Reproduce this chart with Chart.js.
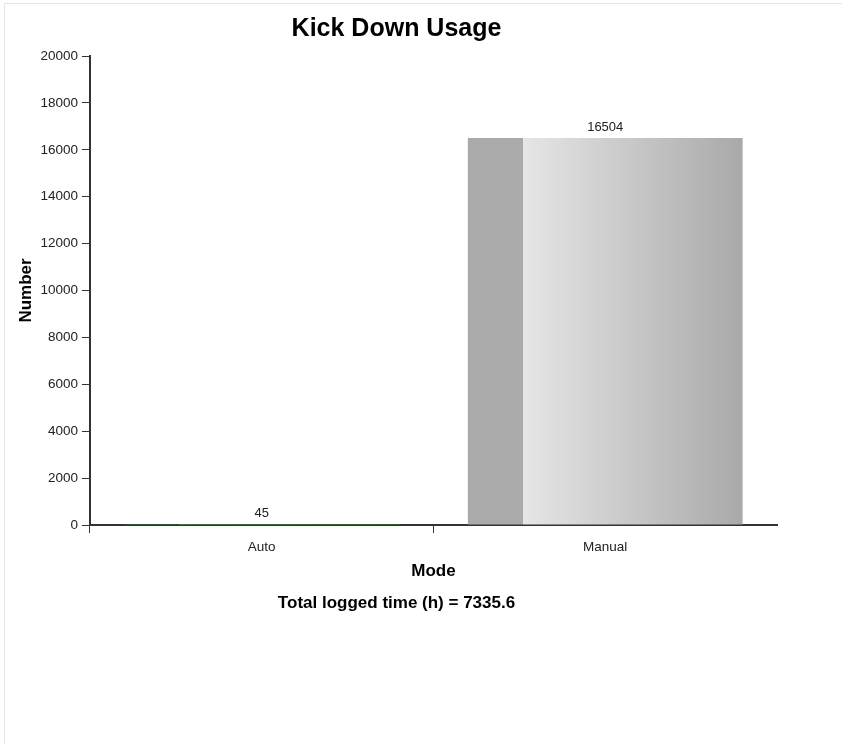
<!DOCTYPE html>
<html>
<head>
<meta charset="utf-8">
<script src="https://cdn.jsdelivr.net/npm/chart.js@4/dist/chart.umd.min.js"></script>
<style>
  html, body { margin: 0; padding: 0; background: #fff; }
  #frame { position: absolute; left: 4px; top: 3px; width: 838px; height: 741px;
           border-top: 1px solid #e6e6e6; border-left: 1px solid #e6e6e6; }
  #wrap { position: absolute; left: 0; top: 0; width: 790px; height: 744px; }
</style>
</head>
<body>
<div id="frame"></div>
<div id="wrap"><canvas id="chart" width="790" height="744"></canvas></div>
<script>
// chart data
const modes = ['Auto', 'Manual']
const counts = [45, 16504]
const yTicks = [0, 2000, 4000, 6000, 8000, 10000, 12000, 14000, 16000, 18000, 20000]
const totalHours = 7335.6

// colours per bar: solid strip on the left, then a light-to-dark gradient
const stripColors = ['#1d7a1d', '#aaaaaa']
const gradStart = ['#4caf50', '#e6e6e6']
const gradEnd = ['#1f8a1f', '#a9a9a9']

const font = 'Arial, "Liberation Sans", sans-serif'

function barFill(context) {
  const chart = context.chart
  const i = context.dataIndex
  const xs = chart.scales.x
  if (!chart.chartArea || !xs) return stripColors[i]
  const center = xs.getPixelForValue(i)
  const w = (xs.width / modes.length) * 0.8
  const g = chart.ctx.createLinearGradient(center - w / 2, 0, center + w / 2, 0)
  g.addColorStop(0, stripColors[i])
  g.addColorStop(0.2, stripColors[i])
  g.addColorStop(0.2, gradStart[i])
  g.addColorStop(1, gradEnd[i])
  return g
}

// draws value above each bar
const valueLabels = {
  id: 'valueLabels',
  afterDatasetsDraw(chart) {
    const ctx = chart.ctx
    const meta = chart.getDatasetMeta(0)
    ctx.save()
    ctx.font = '13px ' + font
    ctx.fillStyle = '#222'
    ctx.textAlign = 'center'
    ctx.textBaseline = 'bottom'
    meta.data.forEach((bar, i) => {
      ctx.fillText(String(counts[i]), bar.x, bar.y - 4)
    })
    ctx.restore()
  }
}

new Chart(document.getElementById('chart'), {
  type: 'bar',
  data: {
    labels: modes,
    datasets: [{
      data: counts,
      backgroundColor: barFill,
      borderWidth: 0,
      barPercentage: 0.8,
      categoryPercentage: 1.0
    }]
  },
  plugins: [valueLabels],
  options: {
    responsive: false,
    animation: false,
    layout: { padding: { left: 16, right: 13, top: 0, bottom: 130 } },
    plugins: {
      legend: { display: false },
      tooltip: { enabled: false },
      title: {
        display: true,
        text: 'Kick Down Usage',
        color: '#000',
        font: { family: font, size: 25, weight: 'bold' },
        padding: { top: 14, bottom: 12 }
      },
      subtitle: {
        display: true,
        position: 'bottom',
        text: 'Total logged time (h) = ' + totalHours,
        color: '#000',
        font: { family: font, size: 17, weight: 'bold' },
        padding: { top: 12, bottom: 0 }
      }
    },
    scales: {
      x: {
        grid: {
          offset: true,
          drawOnChartArea: false,
          drawTicks: true,
          tickLength: 8,
          color: (c) => c.type === 'tick' ? '#333' : 'rgba(0,0,0,0)',
          lineWidth: 1
        },
        border: { display: true, color: '#333', width: 2 },
        ticks: { color: '#222', font: { family: font, size: 13.5 }, padding: 6 },
        title: {
          display: true,
          text: 'Mode',
          color: '#000',
          font: { family: font, size: 17, weight: 'bold' },
          padding: { top: 0, bottom: 0 }
        }
      },
      y: {
        min: yTicks[0],
        max: yTicks[yTicks.length - 1],
        afterBuildTicks: (axis) => { axis.ticks = yTicks.map(v => ({ value: v })) },
        grid: {
          drawOnChartArea: false,
          drawTicks: true,
          tickLength: 8,
          color: '#333',
          lineWidth: 1
        },
        border: { display: true, color: '#333', width: 2 },
        ticks: {
          color: '#222',
          font: { family: font, size: 13.5 },
          padding: 4,
          callback: (v) => String(v)
        },
        title: {
          display: true,
          text: 'Number',
          color: '#000',
          font: { family: font, size: 17, weight: 'bold' },
          padding: { top: 0, bottom: 0 }
        }
      }
    }
  }
})
</script>
</body>
</html>
